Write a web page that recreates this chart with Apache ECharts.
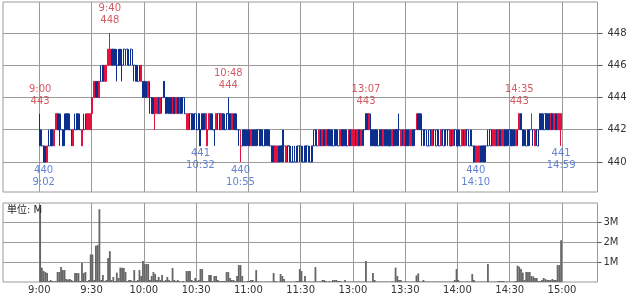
<!DOCTYPE html>
<html>
<head>
<meta charset="utf-8">
<script src="https://cdn.jsdelivr.net/npm/echarts@6/dist/echarts.min.js"></script>
<style>html,body{margin:0;padding:0;background:#fff;}#c{width:631px;height:297px;}</style>
</head>
<body>
<div id="c"></div>
<script>
// ---- data (minute candles, morning 9:00-11:29, afternoon 12:30-14:59) ----
// rows: [open, close, low, high]
const amOHLC = [
[442,441,441,443],[441,441,441,442],[441,440,440,441],[440,440,440,441],[440,441,440,441],[441,441,441,442],[442,441,441,442],[442,441,441,442],[441,442,441,442],[442,443,442,443],
[443,442,442,443],[442,442,441,443],[442,442,442,443],[442,441,441,442],[442,442,441,443],[443,442,442,443],[443,442,442,443],[442,442,442,443],[442,441,441,442],[441,442,441,442],
[442,442,442,443],[443,442,442,443],[443,442,442,443],[442,442,442,443],[441,442,441,442],[442,442,442,443],[442,442,442,443],[442,443,442,443],[442,443,442,443],[442,443,442,443],
[443,444,443,444],[444,445,444,445],[445,444,444,445],[445,444,444,445],[444,445,444,445],[445,445,445,446],[446,445,445,446],[445,446,445,446],[445,446,445,446],[446,447,446,447],
[446,447,446,448],[447,446,446,447],[447,446,446,447],[447,446,446,447],[446,446,445,447],[446,446,446,447],[447,446,446,447],[446,446,445,447],[447,447,446,447],[446,446,446,447],
[447,447,446,447],[446,446,446,447],[447,447,446,447],[446,446,446,447],[446,446,445,446],[446,445,445,446],[445,445,445,446],[446,446,445,446],[445,446,445,446],[445,444,444,445],
[445,444,444,445],[444,444,444,445],[444,445,444,445],[444,444,443,445],[444,443,443,444],[443,443,443,444],[443,444,442,444],[443,444,443,444],[444,443,443,444],[443,444,443,444],
[444,444,443,444],[445,444,444,445],[444,443,443,444],[444,444,443,444],[444,443,443,444],[444,443,443,444],[443,444,443,444],[444,443,443,444],[443,444,443,444],[444,443,443,444],
[443,444,443,444],[444,443,443,444],[444,444,443,444],[443,443,443,444],[442,443,442,443],[442,443,442,443],[443,443,442,443],[443,442,442,443],[442,442,442,443],[443,443,442,443],
[442,442,442,443],[443,442,442,443],[442,441,441,442],[443,442,442,443],[443,442,442,443],[442,443,442,443],[441,442,441,442],[442,443,442,443],[443,442,442,443],[442,442,442,443],
[442,442,441,442],[442,443,442,443],[443,443,442,443],[443,442,442,443],[442,443,442,443],[443,442,442,443],[442,442,442,443],[443,443,442,443],[443,443,442,444],[443,442,442,443],
[442,443,442,443],[443,442,442,443],[443,442,442,443],[442,442,442,443],[442,442,441,442],[440,441,440,442],[441,441,441,442],[442,441,441,442],[442,441,441,442],[441,441,441,442],
[442,441,441,442],[441,442,441,442],[442,441,441,442],[442,441,441,442],[442,441,441,442],[442,442,441,442],[442,441,441,442],[442,442,441,442],[441,441,441,442],[442,441,441,442],
[442,442,441,442],[442,441,441,442],[441,441,441,442],[441,440,440,441],[441,440,440,441],[440,441,440,441],[440,441,440,441],[441,440,440,441],[441,441,440,441],[441,440,440,442],
[441,441,440,442],[440,441,440,441],[441,441,440,441],[441,441,440,441],[440,440,440,441],[440,440,440,441],[441,441,440,441],[440,440,440,441],[441,441,440,441],[441,441,440,441]
];
const pmOHLC = [
[441,440,440,441],[440,440,440,441],[441,440,440,441],[441,441,440,441],[441,440,440,441],[440,440,440,441],[441,440,440,441],[441,441,441,442],[442,442,441,442],[441,441,441,442],
[441,442,441,442],[442,441,441,442],[441,442,441,442],[442,441,441,442],[441,442,441,442],[442,442,441,442],[442,441,441,442],[442,441,441,442],[441,441,441,442],[442,441,441,442],
[442,442,441,442],[441,441,441,442],[441,442,441,442],[442,441,441,442],[442,441,441,442],[442,441,441,442],[441,441,441,442],[441,442,441,442],[442,441,441,442],[441,442,441,442],
[441,442,441,442],[442,441,441,442],[441,442,441,442],[442,441,441,442],[441,442,441,442],[442,442,441,442],[442,442,441,442],[443,442,442,443],[443,442,442,443],[442,443,442,443],
[442,441,441,443],[442,441,441,442],[442,441,441,442],[442,441,441,442],[441,441,441,442],[442,441,441,442],[442,441,441,442],[441,442,441,442],[442,441,441,442],[442,441,441,442],
[441,441,441,442],[442,441,441,442],[441,442,441,442],[442,441,441,442],[442,442,441,442],[442,441,441,442],[442,442,441,443],[441,442,441,442],[442,441,441,442],[441,442,441,442],
[442,441,441,442],[442,441,441,442],[441,442,441,442],[441,442,441,442],[442,441,441,442],[442,442,441,442],[442,443,442,443],[443,442,442,443],[443,442,442,443],[442,442,441,443],
[442,441,441,442],[442,442,441,442],[441,441,441,442],[441,441,441,442],[442,442,441,442],[441,442,441,442],[442,442,441,442],[441,441,441,442],[442,442,441,442],[441,441,441,442],
[441,442,441,442],[442,442,441,442],[441,441,441,442],[442,442,441,442],[442,442,441,442],[441,442,441,442],[441,441,441,442],[441,442,441,442],[442,442,441,442],[441,441,441,442],
[442,441,441,442],[441,441,441,442],[441,442,441,442],[442,442,441,442],[441,442,441,442],[442,442,441,442],[441,441,441,442],[442,441,441,442],[441,441,441,442],[441,440,440,441],
[440,441,440,441],[440,441,440,441],[440,441,440,441],[441,440,440,441],[441,441,440,441],[441,440,440,441],[441,441,440,441],[441,441,441,442],[442,442,441,442],[441,441,441,442],
[441,442,441,442],[441,442,441,442],[442,441,441,442],[441,442,441,442],[442,441,441,442],[441,442,441,442],[441,442,441,442],[442,441,441,442],[442,441,441,442],[442,442,441,442],
[442,441,441,442],[442,441,441,442],[442,441,441,442],[441,442,441,442],[442,442,441,442],[442,443,442,443],[443,442,442,443],[442,441,441,442],[442,442,441,442],[441,441,441,442],
[442,441,441,442],[442,442,441,442],[442,443,442,443],[442,442,441,442],[441,442,441,442],[442,442,441,442],[441,441,441,442],[443,442,442,443],[443,442,442,443],[442,442,442,443],
[443,443,442,443],[443,442,442,443],[443,442,442,443],[442,443,442,443],[443,442,442,443],[442,443,442,443],[443,442,442,443],[442,443,442,443],[442,443,442,443],[442,443,441,443]
];
// volume in millions of shares, one per minute
const amVolume = [
3.7,0.72,0.55,0.5,0.45,0.05,0.1,0.05,0.02,0.05,
0.5,0.5,0.75,0.6,0.6,0.15,0.12,0.15,0.1,0.05,
0.45,0.45,0.45,0.05,0.95,0.45,0.5,0.05,0.1,1.38,
1.38,0.1,1.82,1.85,3.65,0.1,0.35,0.05,0.1,1.2,
1.55,0.1,0.25,0.05,0.47,0.2,0.72,0.72,0.7,0.5,
0.05,0.1,0.1,0.05,0.6,0.05,0.1,0.6,0.3,1.05,
0.9,0.9,0.9,0.1,0.3,0.5,0.4,0.1,0.25,0.1,
0.35,0.05,0.1,0.25,0.1,0.05,0.7,0.1,0.05,0.1,
0.05,0.02,0.05,0.02,0.55,0.55,0.55,0.1,0.05,0.2,
0.05,0.1,0.65,0.65,0.05,0.05,0.05,0.35,0.35,0.05,
0.3,0.3,0.1,0.05,0.05,0.05,0.05,0.5,0.5,0.2,
0.1,0.1,0.05,0.3,0.85,0.85,0.3,0.02,0.02,0.05,
0.05,0.1,0.1,0.02,0.6,0.02,0.02,0.02,0.02,0.02,
0.02,0.02,0.02,0.02,0.45,0.05,0.02,0.02,0.4,0.3,
0.15,0.02,0.02,0.02,0.02,0.02,0.02,0.05,0.05,0.65
];
const pmVolume = [
0.55,0.02,0.3,0.02,0.02,0.02,0.02,0.02,0.75,0.02,
0.02,0.02,0.1,0.1,0.05,0.02,0.05,0.02,0.1,0.1,
0.1,0.05,0.05,0.02,0.02,0.1,0.02,0.02,0.02,0.02,
0.02,0.02,0.02,0.02,0.02,0.02,0.02,1.05,0.02,0.02,
0.02,0.45,0.1,0.02,0.02,0.02,0.02,0.02,0.02,0.02,
0.02,0.02,0.02,0.02,0.72,0.3,0.1,0.1,0.02,0.02,
0.02,0.02,0.02,0.02,0.02,0.02,0.33,0.43,0.02,0.02,
0.1,0.02,0.02,0.02,0.02,0.02,0.02,0.02,0.02,0.02,
0.02,0.02,0.02,0.02,0.02,0.02,0.02,0.02,0.1,0.65,
0.1,0.02,0.02,0.02,0.02,0.02,0.02,0.02,0.4,0.1,
0.02,0.02,0.02,0.02,0.02,0.02,0.02,0.9,0.02,0.02,
0.02,0.02,0.02,0.05,0.05,0.05,0.05,0.02,0.02,0.02,
0.02,0.02,0.02,0.05,0.82,0.77,0.65,0.47,0.1,0.5,
0.5,0.5,0.3,0.28,0.2,0.2,0.05,0.05,0.1,0.2,
0.15,0.1,0.1,0.1,0.15,0.1,0.1,0.85,0.85,2.1
];
const tickLabels = ['9:00','9:30','10:00','10:30','11:00','11:30','13:00','13:30','14:00','14:30','15:00'];
const priceTicks = [440,442,444,446,448];
const volumeTicks = [1,2,3];
const highMarks = [['9:00',443],['9:40',448],['10:48',444],['13:07',443],['14:35',443]];
const lowMarks  = [['9:02',440],['10:32',441],['10:55',440],['14:10',440],['14:59',441]];

// ---- time -> session minute index (lunch break collapsed: 11:30 == 12:30) ----
function idx(t){
  const [h,m] = t.split(':').map(Number);
  const mins = h*60+m;
  return mins <= 690 ? mins - 540 : mins - 750 + 150;
}
const ohlc = amOHLC.concat(pmOHLC);
const volume = amVolume.concat(pmVolume);
const candleData = ohlc.map((r,i)=>[i+0.5, r[0], r[1], r[2], r[3]]);
const volData = volume.map((v,i)=>[i+0.5, v]);
const xTicks = tickLabels.map(idx);

const RED = '#e3123f', BLUE = '#0c2f8e', GRID = '#9a9a9a';
const FONT = "'DejaVu Sans','Noto Sans CJK JP',sans-serif";
const X_MIN = -20.83, X_MAX = 320.4;

function xAxisBase(gi, showLabel){
  return {
    type:'value', gridIndex:gi, min:X_MIN, max:X_MAX,
    axisLine:{show:false, onZero:false},
    axisTick:{show:false, customValues:xTicks},
    axisLabel:{show:showLabel, customValues:xTicks, fontSize:10, color:'#333', fontFamily:FONT, margin:3,
      formatter:v=>{const k=xTicks.indexOf(Math.round(v)); return k>=0?tickLabels[k]:'';}},
    splitLine:{show:true, lineStyle:{color:GRID, width:1}}
  };
}

const chart = echarts.init(document.getElementById('c'), null, {renderer:'canvas'});
chart.setOption({
  animation:false,
  backgroundColor:'#fff',
  title:{text:'単位: M', left:7, top:205, textStyle:{fontSize:10, fontWeight:'normal', color:'#222', fontFamily:FONT}, padding:0},
  grid:[
    {left:3, right:33.5, top:2, height:190, show:true, borderColor:GRID, borderWidth:1, backgroundColor:'#fff'},
    {left:3, right:33.5, top:203, height:79, show:true, borderColor:GRID, borderWidth:1, backgroundColor:'#fff'}
  ],
  xAxis:[xAxisBase(0,false), xAxisBase(1,true)],
  yAxis:[
    {type:'value', gridIndex:0, position:'right', min:438.14, max:449.92, scale:true,
     axisLine:{show:false, onZero:false},
     axisTick:{show:true, length:5, customValues:priceTicks, lineStyle:{color:'#555'}},
     axisLabel:{customValues:priceTicks, fontSize:10, color:'#333', fontFamily:FONT, margin:10},
     splitLine:{show:true, lineStyle:{color:GRID}}},
    {type:'value', gridIndex:1, position:'right', min:0, max:3.965,
     axisLine:{show:false, onZero:false},
     axisTick:{show:true, length:4, customValues:volumeTicks, lineStyle:{color:'#555'}},
     axisLabel:{customValues:volumeTicks, fontSize:10, color:'#333', fontFamily:FONT, margin:6, formatter:v=>v+'M'},
     splitLine:{show:true, lineStyle:{color:GRID}}}
  ],
  series:[
    {type:'candlestick', xAxisIndex:0, yAxisIndex:0, data:candleData, encode:{x:0, y:[1,2,3,4]},
     barWidth:1.4,
     itemStyle:{color:RED, color0:BLUE, borderColor:RED, borderColor0:BLUE, borderColorDoji:BLUE, borderWidth:1}},
    {type:'bar', xAxisIndex:1, yAxisIndex:1, data:volData, barWidth:1.8, itemStyle:{color:'#666'}},
    {type:'scatter', xAxisIndex:0, yAxisIndex:0, symbolSize:1, itemStyle:{color:'rgba(0,0,0,0)'},
     data:highMarks.map(m=>[idx(m[0])+0.5, m[1], m[0]]),
     label:{show:true, position:'top', distance:6, color:'#c8323c', fontSize:10, lineHeight:12, fontFamily:FONT, align:'center',
       formatter:p=>p.data[2]+'\n'+p.data[1]}},
    {type:'scatter', xAxisIndex:0, yAxisIndex:0, symbolSize:1, itemStyle:{color:'rgba(0,0,0,0)'},
     data:lowMarks.map(m=>[idx(m[0])+0.5, m[1], m[0]]),
     label:{show:true, position:'bottom', distance:1.5, color:'#3c64c8', fontSize:10, lineHeight:12, fontFamily:FONT, align:'center',
       formatter:p=>p.data[1]+'\n'+p.data[2]}}
  ]
});
</script>
</body>
</html>
